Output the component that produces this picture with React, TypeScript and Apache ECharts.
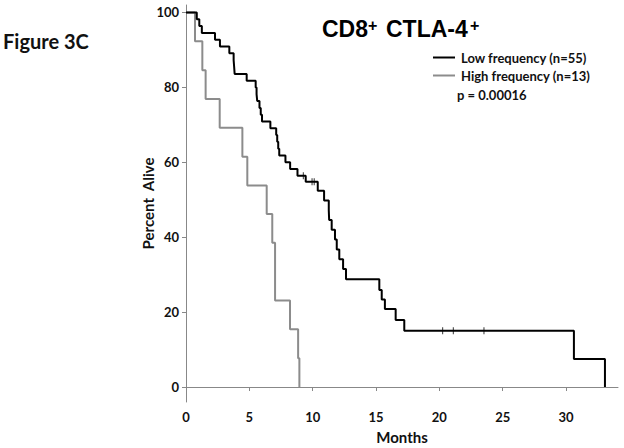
import React, { useEffect, useRef } from "react";
import * as echarts from "echarts";

// Kaplan-Meier estimates (months, percent alive)
const lowTimes = [0, 0.85, 1.05, 1.25, 2.29, 2.68, 3.42, 3.76, 3.8, 3.84, 4.79, 5.5, 5.57, 5.62, 5.8, 5.9, 6.0, 6.66, 7.12, 7.2, 7.28, 7.36, 7.85, 8.22, 8.8, 9.45, 10.4, 10.9, 11.27, 11.3, 11.5, 11.76, 11.9, 12.1, 12.4, 12.63, 15.26, 15.45, 15.7, 16.55, 17.23, 30.62, 33.07];
const lowSurvival = [100, 98.2, 96.4, 94.5, 92.7, 90.9, 89.1, 87.3, 85.5, 83.6, 81.8, 80.0, 78.2, 76.4, 74.5, 72.7, 70.9, 69.1, 67.3, 65.5, 63.6, 61.8, 60.0, 58.2, 56.4, 54.8, 52.4, 49.8, 47.2, 44.6, 42.0, 39.4, 36.7, 34.1, 31.5, 28.8, 25.9, 23.4, 20.8, 17.9, 15.0, 7.5, 0];

const highTimes = [0, 0.71, 1.29, 1.55, 2.66, 4.45, 4.84, 6.37, 6.81, 7.03, 8.21, 8.85, 8.95];
const highSurvival = [100, 92.3, 84.6, 76.9, 69.2, 61.5, 53.8, 46.2, 38.5, 23.1, 15.4, 7.7, 0];

// censored observations (tick marks) on the low-frequency curve
const censorTimes = [9.26, 9.95, 10.12, 20.26, 21.1, 23.52];
const censorSurvival = [56.4, 54.8, 54.8, 15.0, 15.0, 15.0];

const xTicks = [0, 5, 10, 15, 20, 25, 30];
const yTicks = [0, 20, 40, 60, 80, 100];

const seriesNames = ["Low frequency (n=55)", "High frequency (n=13)"];
const pValueText = "p = 0.00016";

const zip = (a: number[], b: number[]) => a.map((v, i) => [v, b[i]]);

export default function App() {
  const ref = useRef<HTMLDivElement>(null);
  useEffect(() => {
    const chart = echarts.init(ref.current!, null, { renderer: "svg" });
    const labelFont = { fontFamily: "Lato", fontWeight: "bold" as const, fontSize: 13, color: "#111" };
    chart.setOption({
      animation: false,
      backgroundColor: "#fff",
      grid: { left: 186, right: 6, top: 5, bottom: 46, outerBoundsMode: "none" },
      xAxis: {
        type: "value",
        min: 0,
        max: 34.1,
        name: "Months",
        nameLocation: "middle",
        nameGap: 27,
        nameMoveOverlap: false,
        nameTextStyle: { fontFamily: "Lato", fontWeight: "bold", fontSize: 15, color: "#111" },
        axisLine: { show: true, lineStyle: { color: "#888", width: 1 } },
        axisTick: { show: true, length: 4, lineStyle: { color: "#888" }, customValues: xTicks },
        axisLabel: { ...labelFont, margin: 8, customValues: xTicks },
        splitLine: { show: false },
      },
      yAxis: {
        type: "value",
        min: -4,
        max: 102,
        name: "Percent  Alive",
        nameLocation: "middle",
        nameGap: 31,
        nameMoveOverlap: false,
        nameTextStyle: { fontFamily: "Lato", fontWeight: "bold", fontSize: 15, color: "#111" },
        axisLine: { show: true, lineStyle: { color: "#888", width: 1 } },
        axisTick: { show: true, length: 4, lineStyle: { color: "#888" }, customValues: yTicks },
        axisLabel: { ...labelFont, margin: 7, customValues: yTicks },
        splitLine: { show: false },
      },
      legend: {
        data: seriesNames,
        orient: "vertical",
        left: 428,
        top: 46,
        itemWidth: 22,
        itemHeight: 2,
        itemGap: 5,
        icon: "rect",
        textStyle: { fontFamily: "Lato", fontWeight: "bold", fontSize: 13, color: "#111", padding: [0, 0, 0, 1] },
      },
      graphic: [
        { type: "text", left: 3, top: 31, style: { text: "Figure 3C", font: 'bold 20px "Lato"', fill: "#111" } },
        { type: "text", x: 322, y: 29, style: { text: "CD8", font: 'bold 23px "Liberation Sans"', fill: "#000", verticalAlign: "middle" } },
        { type: "text", x: 368, y: 25, style: { text: "+", font: 'bold 16px "Liberation Sans"', fill: "#000", verticalAlign: "middle" } },
        { type: "text", x: 386, y: 29, style: { text: "CTLA-4", font: 'bold 23px "Liberation Sans"', fill: "#000", verticalAlign: "middle" } },
        { type: "text", x: 470, y: 25, style: { text: "+", font: 'bold 16px "Liberation Sans"', fill: "#000", verticalAlign: "middle" } },
        { type: "text", x: 457, y: 95, style: { text: pValueText, font: 'bold 13px "Lato"', fill: "#111", verticalAlign: "middle" } },
      ],
      series: [
        {
          name: seriesNames[0],
          type: "line",
          step: "end",
          symbol: "none",
          color: "#000",
          lineStyle: { color: "#000", width: 2 },
          data: zip(lowTimes, lowSurvival),
          z: 3,
        },
        {
          name: seriesNames[1],
          type: "line",
          step: "end",
          symbol: "none",
          color: "#8c8c8c",
          lineStyle: { color: "#8c8c8c", width: 2 },
          data: zip(highTimes, highSurvival),
          z: 2,
        },
        {
          name: "censored",
          type: "scatter",
          symbol: "rect",
          symbolSize: [1, 7],
          itemStyle: { color: "#000" },
          data: zip(censorTimes, censorSurvival),
          z: 4,
        },
      ],
    });
    return () => chart.dispose();
  }, []);
  return <div ref={ref} style={{ position: "absolute", left: 0, top: 0, width: 624, height: 448 }} />;
}
